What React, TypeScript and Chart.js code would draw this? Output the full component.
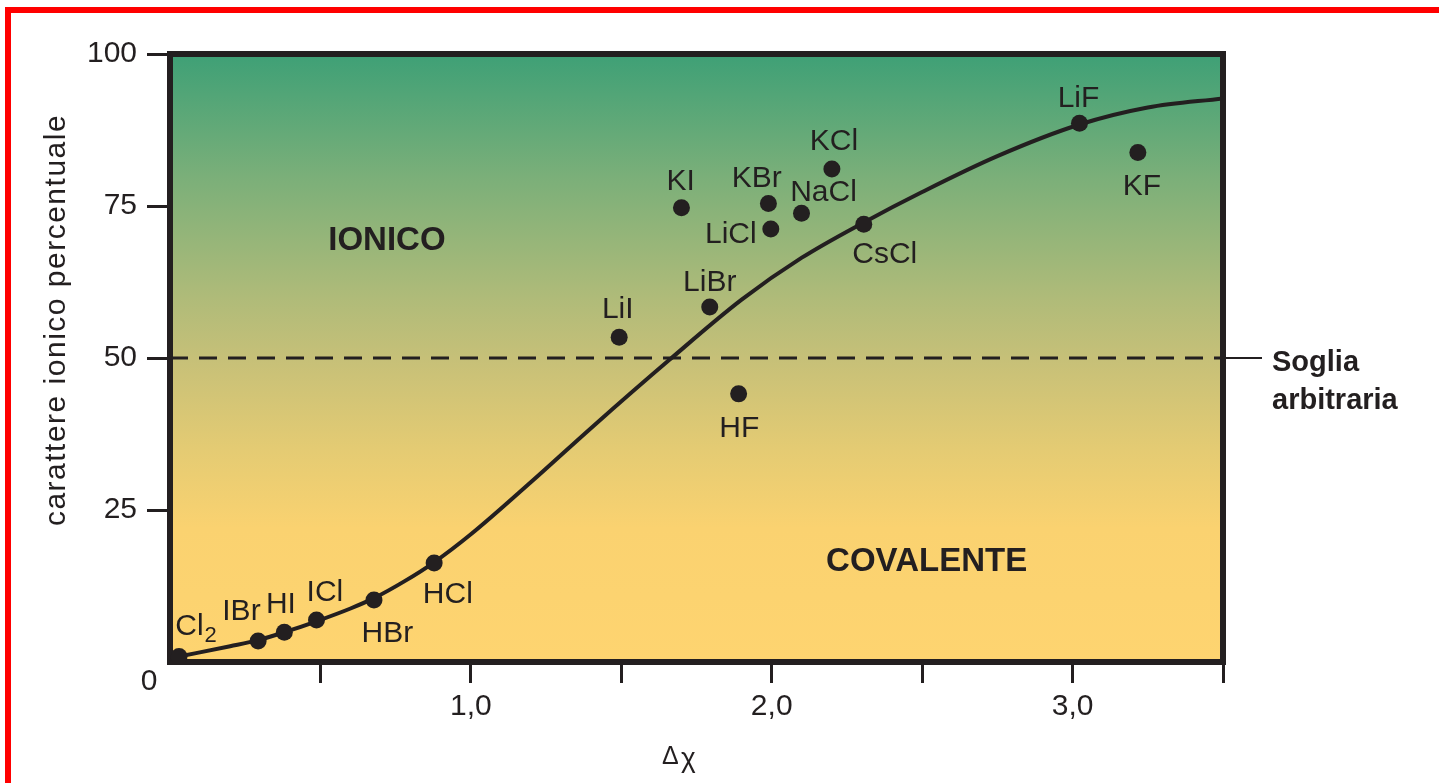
import React, { useEffect, useRef } from 'react';
import { Chart, registerables } from 'chart.js';

Chart.register(...registerables);

// ---- data ----
const compounds = ['Cl2', 'IBr', 'HI', 'ICl', 'HBr', 'HCl', 'LiI', 'LiBr', 'KI', 'KBr', 'LiCl', 'NaCl', 'KCl', 'CsCl', 'HF', 'LiF', 'KF'];
const deltaChi = [0.03, 0.293, 0.38, 0.487, 0.678, 0.878, 1.493, 1.794, 1.7, 1.989, 1.997, 2.099, 2.2, 2.306, 1.89, 3.023, 3.217];
const ionicPct = [0.9, 3.45, 4.9, 6.9, 10.2, 16.3, 53.4, 58.4, 74.7, 75.4, 71.2, 73.8, 81.1, 72.0, 44.1, 88.6, 83.8];

const curveX = [0.0, 0.03, 0.2, 0.293, 0.38, 0.487, 0.6, 0.678, 0.78, 0.878, 1.0, 1.2, 1.4, 1.66, 1.9, 2.1, 2.306, 2.5, 2.75, 3.023, 3.25, 3.5];
const curveY = [0.6, 0.9, 2.6, 3.6, 4.9, 6.7, 8.8, 10.5, 13.3, 16.4, 21.0, 29.6, 38.5, 49.7, 59.6, 66.5, 72.3, 77.3, 83.2, 88.4, 91.2, 92.7];

const thresholdValue = 50;
const xTickValues = [1, 2, 3];
const xTickTexts = ['1,0', '2,0', '3,0'];
const yTickValues = [25, 50, 75, 100];
const yTickTexts = ['25', '50', '75', '100'];
const yAxisTitle = 'carattere ionico percentuale';
const xAxisTitleMain = 'Δ';
const xAxisTitleSub = 'χ';
const ionicLabel = 'IONICO';
const covalentLabel = 'COVALENTE';
const thresholdLines = ['Soglia', 'arbitraria'];
const originLabel = '0';

// ---- layout / style (not data) ----
const W = 1439;
const H = 783;
const INK = '#231f20';
const FAMILY = '"Liberation Sans", Arial, Helvetica, sans-serif';
// label offsets relative to point pixel: text centre dx, baseline dy
const labelDx = [16.5, -16.7, -3.4, 8.4, 13.4, 13.7, -1.4, 0, -0.7, -11.7, -40, 22, 2, 21, 0.6, -1, 4];
const labelDy = [-21.5, -21, -19, -19, 42, 40, -19, -16, -18, -16.6, 14, -12, -19, 39, 43, -16, 42.5];

const fmtTick = (vals: number[], texts: string[]) => (v: any) => {
  const n = Number(v);
  for (let i = 0; i < vals.length; i++) if (Math.abs(vals[i] - n) < 1e-6) return texts[i];
  return '';
};

const decorPlugin = {
  id: 'decor',
  beforeDraw(chart: any) {
    const { ctx, chartArea: a } = chart;
    const g = ctx.createLinearGradient(0, a.top, 0, a.bottom);
    g.addColorStop(0, 'rgb(62,160,118)');
    g.addColorStop(0.2, 'rgb(122,175,121)');
    g.addColorStop(0.4, 'rgb(175,187,121)');
    g.addColorStop(0.5, 'rgb(198,192,120)');
    g.addColorStop(0.65, 'rgb(228,203,115)');
    g.addColorStop(0.78, 'rgb(250,210,112)');
    g.addColorStop(1, 'rgb(254,212,112)');
    ctx.save();
    ctx.fillStyle = g;
    ctx.fillRect(a.left, a.top, a.right - a.left, a.bottom - a.top);
    ctx.restore();
  },
  beforeDatasetsDraw(chart: any) {
    const { ctx, chartArea: a, scales } = chart;
    ctx.save();
    // frame
    ctx.strokeStyle = INK;
    ctx.lineWidth = 6;
    ctx.lineJoin = 'miter';
    ctx.strokeRect(a.left, a.top, a.right - a.left, a.bottom - a.top);
    // threshold leader outside the plot
    const ty = scales.y.getPixelForValue(thresholdValue);
    ctx.lineWidth = 2;
    ctx.beginPath();
    ctx.moveTo(a.right + 3, ty);
    ctx.lineTo(a.right + 39, ty);
    ctx.stroke();
    // threshold text
    ctx.fillStyle = INK;
    ctx.font = `bold 29px ${FAMILY}`;
    ctx.textAlign = 'left';
    ctx.textBaseline = 'alphabetic';
    ctx.fillText(thresholdLines[0], a.right + 49, ty + 13);
    ctx.fillText(thresholdLines[1], a.right + 49, ty + 51);
    // region labels
    ctx.font = `bold 33px ${FAMILY}`;
    ctx.textAlign = 'center';
    ctx.fillText(ionicLabel, scales.x.getPixelForValue(0.721), scales.y.getPixelForValue(67.8));
    ctx.fillText(covalentLabel, scales.x.getPixelForValue(2.515), scales.y.getPixelForValue(15.0));
    // origin label
    ctx.font = `30px ${FAMILY}`;
    ctx.textBaseline = 'middle';
    ctx.fillText(originLabel, a.left - 21, a.bottom + 20);
    // y axis title
    ctx.save();
    ctx.translate(65, 320);
    ctx.rotate(-Math.PI / 2);
    ctx.font = `30px ${FAMILY}`;
    (ctx as any).letterSpacing = '1.5px';
    ctx.textAlign = 'center';
    ctx.textBaseline = 'alphabetic';
    ctx.fillText(yAxisTitle, 0, 0);
    ctx.restore();
    // x axis title
    ctx.textAlign = 'left';
    ctx.textBaseline = 'alphabetic';
    ctx.font = `25px ${FAMILY}`;
    ctx.fillText(xAxisTitleMain, 662, 764);
    ctx.font = `28px ${FAMILY}`;
    ctx.fillText(xAxisTitleSub, 681, 767);
    ctx.restore();
  },
  afterDatasetsDraw(chart: any) {
    const { ctx, scales } = chart;
    ctx.save();
    ctx.fillStyle = INK;
    ctx.textBaseline = 'alphabetic';
    for (let i = 0; i < compounds.length; i++) {
      const px = scales.x.getPixelForValue(deltaChi[i]);
      const py = scales.y.getPixelForValue(ionicPct[i]);
      const name = compounds[i];
      const cx = px + labelDx[i];
      const by = py + labelDy[i];
      const m = name.match(/^(.*?)(\d+)$/);
      if (m) {
        ctx.font = `30px ${FAMILY}`;
        const w1 = ctx.measureText(m[1]).width;
        ctx.font = `22px ${FAMILY}`;
        const w2 = ctx.measureText(m[2]).width;
        const x0 = cx - (w1 + w2) / 2;
        ctx.textAlign = 'left';
        ctx.font = `30px ${FAMILY}`;
        ctx.fillText(m[1], x0, by);
        ctx.font = `22px ${FAMILY}`;
        ctx.fillText(m[2], x0 + w1 + 1, by + 7);
      } else {
        ctx.font = `30px ${FAMILY}`;
        ctx.textAlign = 'center';
        ctx.fillText(name, cx, by);
      }
    }
    ctx.restore();
  },
};

export default function App() {
  const ref = useRef<HTMLCanvasElement | null>(null);

  useEffect(() => {
    if (!ref.current) return;
    const tickColor = (ctx: any) => (ctx.tick && Math.abs(ctx.tick.value) < 1e-9 ? 'rgba(0,0,0,0)' : INK);
    const chart = new Chart(ref.current, {
      type: 'scatter',
      data: {
        datasets: [
          {
            type: 'line',
            data: curveX.map((x, i) => ({ x, y: curveY[i] })),
            borderColor: INK,
            borderWidth: 4,
            pointRadius: 0,
            cubicInterpolationMode: 'monotone',
            fill: false,
            order: 2,
          } as any,
          {
            type: 'line',
            data: [
              { x: 0, y: thresholdValue },
              { x: 3.5, y: thresholdValue },
            ],
            borderColor: INK,
            borderWidth: 3,
            borderDash: [18, 11],
            pointRadius: 0,
            fill: false,
            order: 3,
          } as any,
          {
            type: 'scatter',
            data: deltaChi.map((x, i) => ({ x, y: ionicPct[i] })),
            backgroundColor: INK,
            borderWidth: 0,
            pointRadius: 8.5,
            order: 1,
          } as any,
        ],
      },
      options: {
        animation: false,
        responsive: false,
        maintainAspectRatio: false,
        devicePixelRatio: 1,
        events: [],
        layout: { padding: { top: 54, right: 216, left: 0, bottom: 0 } },
        plugins: { legend: { display: false }, tooltip: { enabled: false }, title: { display: false } },
        scales: {
          x: {
            type: 'linear',
            min: 0,
            max: 3.5,
            afterFit: (s: any) => {
              s.height = 121;
            },
            ticks: {
              stepSize: 0.5,
              autoSkip: false,
              maxRotation: 0,
              padding: 6,
              color: INK,
              font: { family: FAMILY, size: 30 },
              callback: fmtTick(xTickValues, xTickTexts),
            },
            grid: { drawOnChartArea: false, drawTicks: true, tickLength: 21, tickWidth: 3, tickColor },
            border: { display: false },
          },
          y: {
            type: 'linear',
            min: 0,
            max: 100,
            afterFit: (s: any) => {
              s.width = 170;
            },
            ticks: {
              stepSize: 25,
              autoSkip: false,
              padding: 10,
              color: INK,
              font: { family: FAMILY, size: 30 },
              callback: fmtTick(yTickValues, yTickTexts),
            },
            grid: { drawOnChartArea: false, drawTicks: true, tickLength: 23, tickWidth: 3, tickColor },
            border: { display: false },
          },
        },
      } as any,
      plugins: [decorPlugin],
    });
    return () => chart.destroy();
  }, []);

  return (
    <div style={{ position: 'fixed', left: 0, top: 0, width: W, height: H, background: '#fff', overflow: 'hidden' }}>
      <canvas ref={ref} width={W} height={H} style={{ position: 'absolute', left: 0, top: 0, width: W, height: H, display: 'block' }} />
      <div
        style={{
          position: 'absolute',
          left: 5,
          top: 7,
          width: 3000,
          height: 3000,
          borderTop: '6px solid #ff0000',
          borderLeft: '6px solid #ff0000',
          pointerEvents: 'none',
        }}
      />
    </div>
  );
}
